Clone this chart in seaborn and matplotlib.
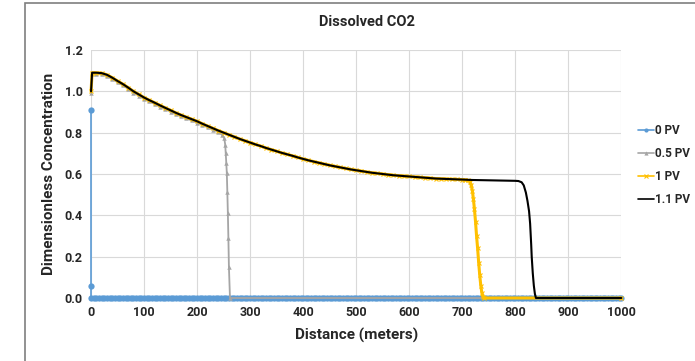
import matplotlib
matplotlib.use("Agg")
import matplotlib.pyplot as plt
from matplotlib.patches import Rectangle
import pandas as pd
import seaborn as sns

# concentration profile behind the fronts (every 10 m)
profile_x = [0, 2, 10, 20, 30, 40, 50, 60, 70, 80, 90, 100, 110, 120, 130,
             140, 150, 160, 170, 180, 190, 200, 210, 220, 230, 240, 250, 260,
             270, 280, 290, 300, 310, 320, 330, 340, 350, 360, 370, 380, 390,
             400, 410, 420, 430, 440, 450, 460, 470, 480, 490, 500, 510, 520,
             530, 540, 550, 560, 570, 580, 590, 600, 610, 620, 630, 640, 650,
             660, 670, 680, 690, 700, 710, 720, 730, 740, 750, 760, 770, 780,
             790, 800]
profile_y = [1.0, 1.09, 1.09, 1.088, 1.08, 1.066, 1.05, 1.035, 1.018, 1.0,
             0.985, 0.97, 0.957, 0.945, 0.932, 0.92, 0.908, 0.896, 0.885,
             0.875, 0.865, 0.855, 0.843, 0.832, 0.821, 0.81, 0.8, 0.79, 0.78,
             0.77, 0.761, 0.752, 0.743, 0.735, 0.726, 0.718, 0.71, 0.702,
             0.695, 0.688, 0.68, 0.673, 0.666, 0.66, 0.654, 0.648, 0.642,
             0.637, 0.632, 0.627, 0.622, 0.618, 0.614, 0.61, 0.606, 0.603,
             0.6, 0.597, 0.594, 0.592, 0.59, 0.588, 0.586, 0.584, 0.582, 0.58,
             0.578, 0.577, 0.576, 0.575, 0.574, 0.573, 0.572, 0.571, 0.5705,
             0.57, 0.5695, 0.569, 0.5685, 0.568, 0.5675, 0.567]

# 0 PV: spike at the inlet, zero everywhere else (grid of 5 m cells)
pv0_x = [0, 0] + list(range(0, 1001, 5))
pv0_y = [0.91, 0.06] + [0.0] * 201

# 0.5 PV front
pv05_front_x = [247, 251, 253, 254, 255, 256, 257, 258, 259, 260, 262, 1000]
pv05_front_y = [0.79, 0.776, 0.742, 0.70, 0.655, 0.607, 0.515, 0.41, 0.29,
                0.15, 0.0, 0.0]

# 1 PV front
pv1_front_x = [705, 710, 714, 717, 719, 721, 723, 725, 727, 729, 731, 733,
               735, 737, 739, 741, 1000]
pv1_front_y = [0.572, 0.57, 0.563, 0.545, 0.52, 0.48, 0.43, 0.37, 0.30, 0.24,
               0.17, 0.11, 0.06, 0.025, 0.005, 0.0, 0.0]

# 1.1 PV front
pv11_front_x = [806, 812, 816, 820, 823, 826, 828, 830, 831, 833, 835, 837,
                839, 1000]
pv11_front_y = [0.566, 0.56, 0.545, 0.51, 0.47, 0.42, 0.36, 0.26, 0.20, 0.12,
                0.06, 0.02, 0.0, 0.0]

labels = ["0 PV", "0.5 PV", "1 PV", "1.1 PV"]
colors = ["#5B9BD5", "#A5A5A5", "#FFC000", "#000000"]


def behind(front_x, front_y, shift=0.0):
    xs = [x for x in profile_x if x < front_x[0]] + front_x
    ys = [y - shift for x, y in zip(profile_x, profile_y) if x < front_x[0]]
    return xs, ys + front_y


pv05_x, pv05_y = behind(pv05_front_x, pv05_front_y, 0.006)
pv1_x, pv1_y = behind(pv1_front_x, pv1_front_y)
pv11_x, pv11_y = behind(pv11_front_x, pv11_front_y)

series = [(pv0_x, pv0_y), (pv05_x, pv05_y), (pv1_x, pv1_y), (pv11_x, pv11_y)]
styles = [
    dict(marker="o", markersize=4.5, linewidth=1.2, markeredgewidth=0),
    dict(marker="^", markersize=3.2, linewidth=1.3, markeredgewidth=0),
    dict(marker="x", markersize=3, linewidth=2.2, markeredgewidth=0.8),
    dict(marker=None, linewidth=1.5),
]

sns.set_style("white")
plt.rcParams["font.family"] = ["Roboto", "DejaVu Sans"]

fig = plt.figure(figsize=(6.95, 3.61), dpi=100)
ax = fig.add_axes([0.131, 0.1745, 0.763, 0.687])

for (xs, ys), lab, col, st in zip(series, labels, colors, styles):
    df = pd.DataFrame({"distance": xs, "conc": ys})
    sns.lineplot(data=df, x="distance", y="conc", ax=ax, sort=False,
                 estimator=None, color=col, label=lab, clip_on=False,
                 markeredgecolor=col, **st)

ax.set_xlim(0, 1000)
ax.set_ylim(0, 1.2)
ticks_x = list(range(0, 1001, 100))
ticks_y = [0, 0.2, 0.4, 0.6, 0.8, 1.0, 1.2]
ax.set_xticks(ticks_x)
ax.set_yticks(ticks_y)
ax.set_yticklabels([f"{v:.1f}" for v in ticks_y])
ax.grid(True, color="#d9d9d9", linewidth=0.8)
ax.set_axisbelow(True)
for s in ax.spines.values():
    s.set_visible(False)
ax.tick_params(length=0, labelsize=9, pad=6)
for t in ax.get_xticklabels() + ax.get_yticklabels():
    t.set_fontweight("bold")

ax.set_xlabel("Distance (meters)", fontsize=11, fontweight="bold", labelpad=6)
ax.set_ylabel("Dimensionless Concentration", fontsize=11, fontweight="bold",
              labelpad=6)
fig.text(0.528, 0.939, "Dissolved CO2", ha="center", va="center",
         fontsize=10.5, fontweight="bold")

leg = ax.legend(loc="center left", bbox_to_anchor=(1.012, 0.535), frameon=False,
                fontsize=8.5, handlelength=1.3, handletextpad=0.15,
                labelspacing=0.85)
for t in leg.get_texts():
    t.set_fontweight("bold")
for h in leg.legend_handles:
    h.set_linewidth(1.2)
    h.set_markersize(3)

fig.patches.append(Rectangle((25 / 695, -0.1), 1.2, 1.1 - 3 / 361,
                             transform=fig.transFigure, fill=False,
                             edgecolor="#7f7f7f", linewidth=1.2))

fig.savefig("out.png", dpi=100)
